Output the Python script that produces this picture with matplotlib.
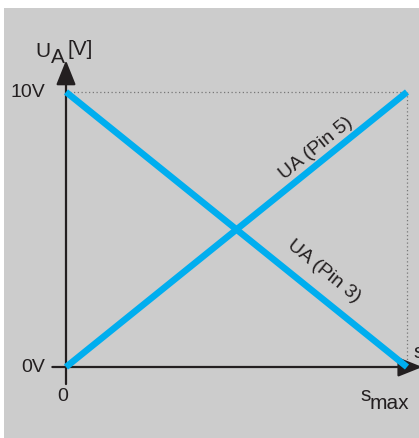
import matplotlib
matplotlib.use("Agg")
import matplotlib.pyplot as plt
from matplotlib.patches import Rectangle

# travel s (0 .. smax) and output voltage of both pins
s = [0.0, 1.0]
ua_pin5 = [0.0, 10.0]
ua_pin3 = [10.0, 0.0]
y_ticks = [0.0, 10.0]
y_tick_labels = ["0V", "10V"]

blue = "#00aeef"
ink = "#231f20"
plt.rcParams["font.family"] = ["Liberation Sans", "DejaVu Sans"]

fig = plt.figure(figsize=(4.19, 4.39), dpi=100)
fig.patch.set_facecolor("white")
# grey panel with a thin white margin top/left
fig.patches.append(Rectangle((4 / 419, 0), 1, 1 - 9 / 439, transform=fig.transFigure,
                             facecolor="#cccccc", edgecolor="none", zorder=-10))

ax = fig.add_axes([66 / 419, 71 / 439, 341 / 419, 275 / 439])
ax.set_xlim(0, 1)
ax.set_ylim(0, 10)
ax.axis("off")
ax.patch.set_alpha(0)

# dotted guide lines to the 10V / smax corner
ax.plot([s[0], s[1]], [y_ticks[1], y_ticks[1]], ls=(0, (1, 2)), color="#777777", lw=0.9, clip_on=False)
ax.plot([s[1], s[1]], [y_ticks[0], y_ticks[1]], ls=(0, (1, 2)), color="#777777", lw=0.9, clip_on=False)

# axes with arrow heads
ax.annotate("", xy=(1.045, 0), xytext=(-0.04, 0),
            arrowprops=dict(arrowstyle="-|>,head_length=0.75,head_width=0.3", color=ink, lw=1.6,
                            mutation_scale=20, shrinkA=0, shrinkB=0), annotation_clip=False)
ax.annotate("", xy=(0, 11.15), xytext=(0, -0.62),
            arrowprops=dict(arrowstyle="-|>,head_length=0.75,head_width=0.3", color=ink, lw=1.6,
                            mutation_scale=20, shrinkA=0, shrinkB=0), annotation_clip=False)

ax.plot(s, ua_pin3, color=blue, lw=4.7, solid_capstyle="butt", clip_on=False, zorder=3)
ax.plot(s, ua_pin5, color=blue, lw=4.7, solid_capstyle="butt", clip_on=False, zorder=3)

for v, lab in zip(y_ticks, y_tick_labels):
    ax.text(-0.06, v, lab, ha="right", va="center", fontsize=14, color=ink)
ax.text(-0.01, -1.05, "0", ha="center", va="center", fontsize=14, color=ink)

# x label "s max" with raised s
ax.text(0.895, -1.0, "s", ha="right", va="center", fontsize=15, color=ink)
ax.text(0.89, -1.3, "max", ha="left", va="center", fontsize=15, color=ink)
ax.text(1.02, 0.55, "s", ha="left", va="center", fontsize=15, color=ink, clip_on=False)

# y label U_A [V]
ax.text(-0.09, 11.5, "U", ha="left", va="center", fontsize=15, color=ink)
ax.text(-0.045, 11.3, "A", ha="left", va="center", fontsize=15, color=ink)
ax.text(0.003, 11.58, "[V]", ha="left", va="center", fontsize=15, color=ink)

ax.text(0.735, 8.0, "UA (Pin 5)", rotation=39, ha="center", va="center",
        fontsize=14, color=ink, rotation_mode="anchor")
ax.text(0.755, 3.5, "UA (Pin 3)", rotation=-39, ha="center", va="center",
        fontsize=14, color=ink, rotation_mode="anchor")

fig.savefig("out.png", dpi=100)
